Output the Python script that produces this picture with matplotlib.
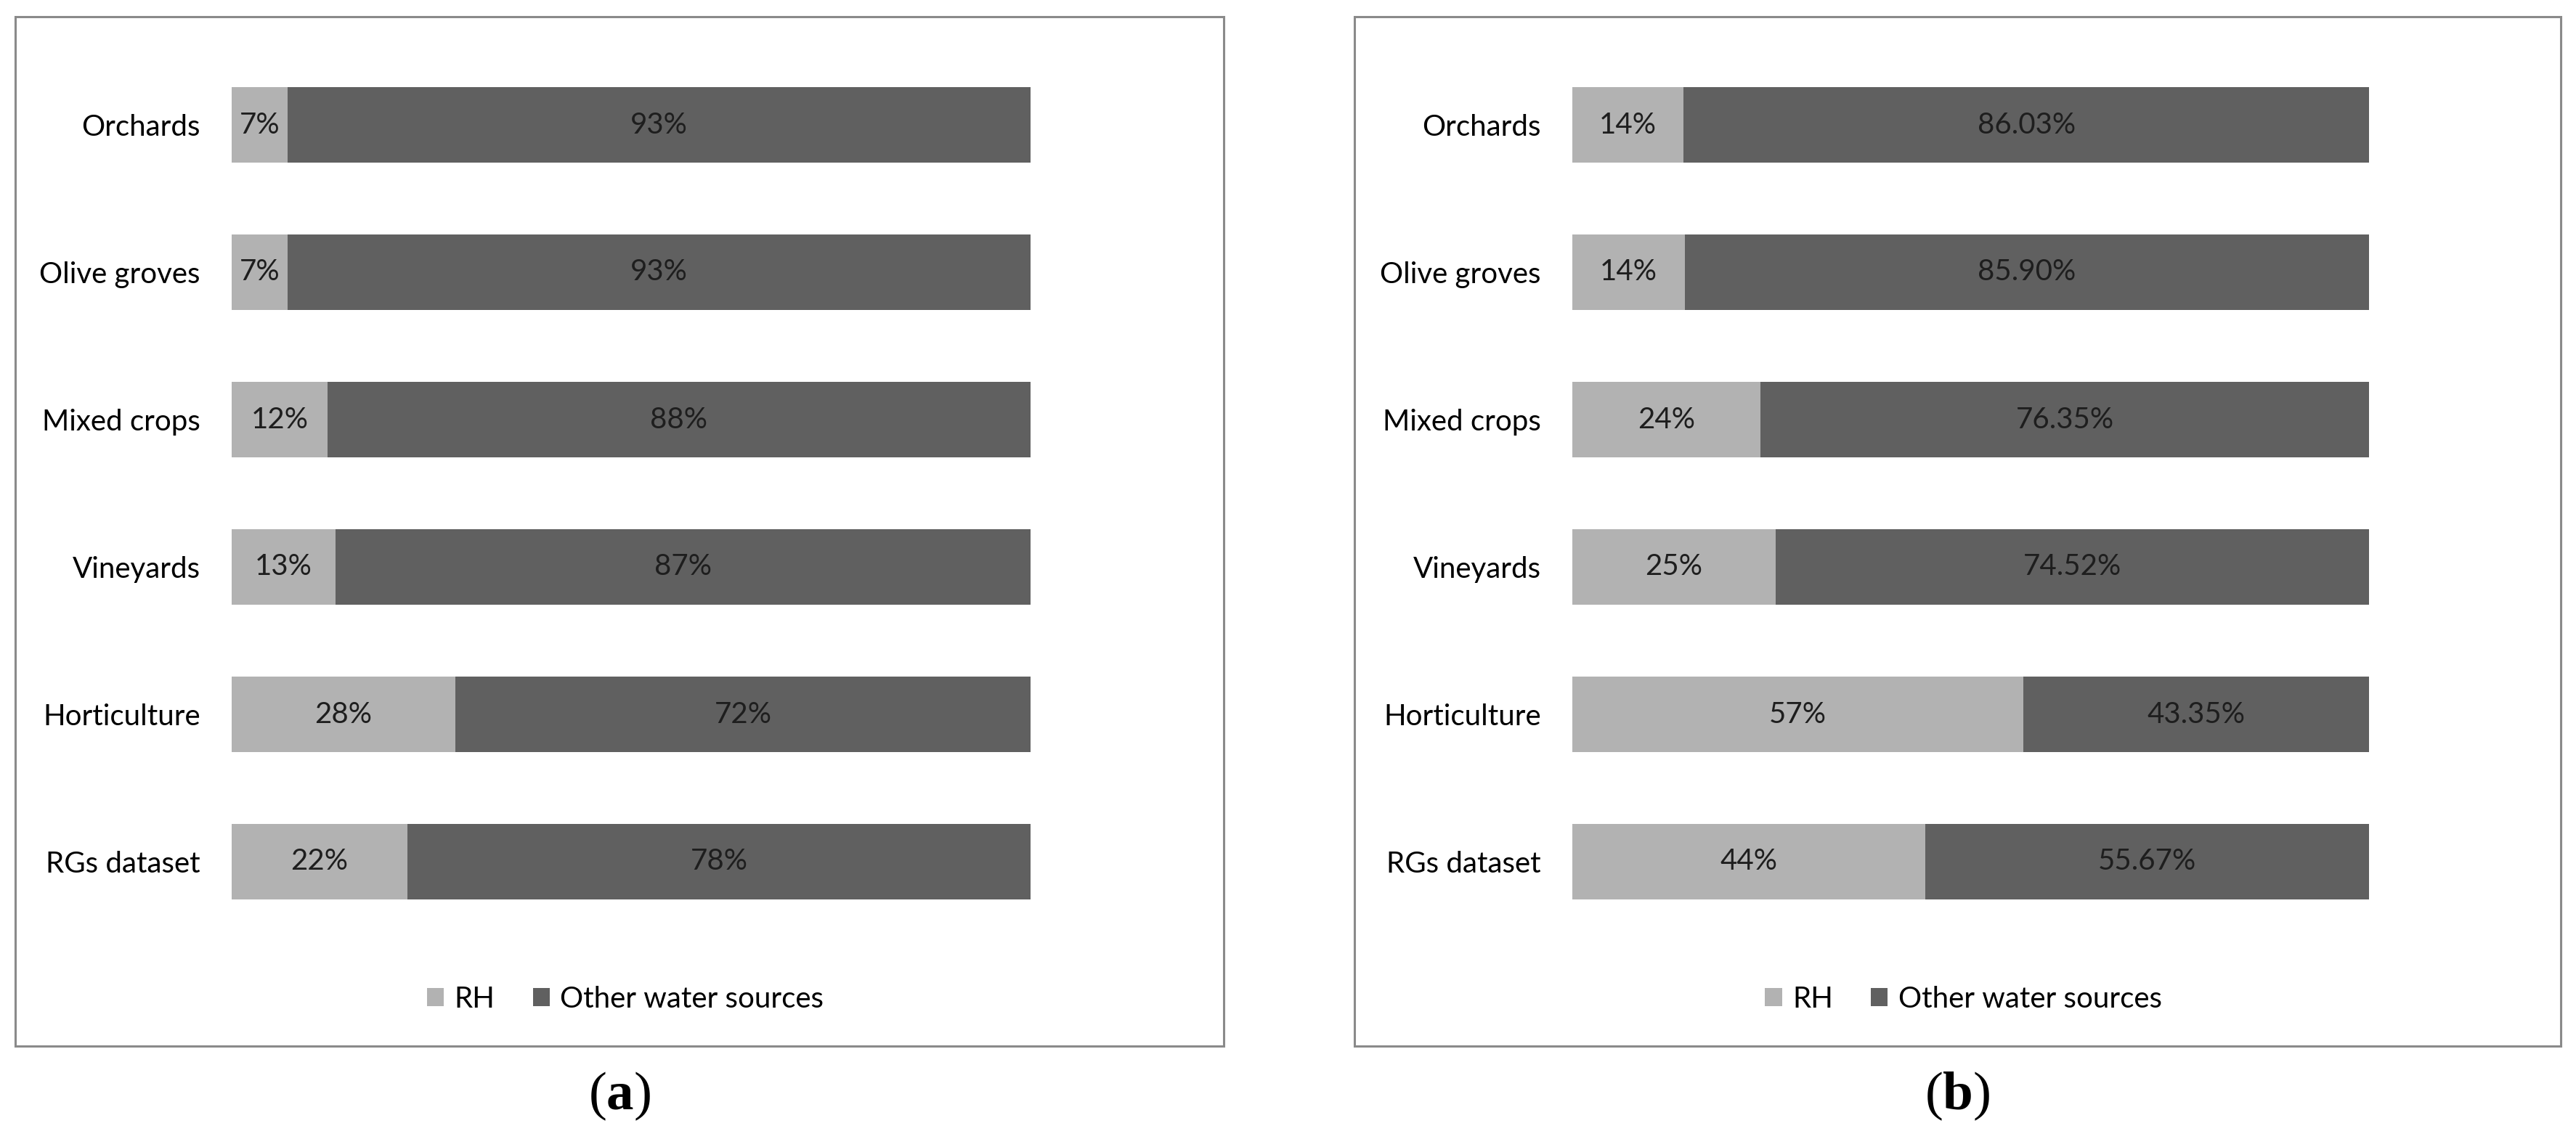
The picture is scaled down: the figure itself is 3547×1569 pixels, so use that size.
import matplotlib.pyplot as plt
from matplotlib.patches import Rectangle, Patch

# land-use categories, top to bottom
categories = ['Orchards', 'Olive groves', 'Mixed crops', 'Vineyards',
              'Horticulture', 'RGs dataset']

# (a) share of RH vs other water sources (%)
rh_a = [7, 7, 12, 13, 28, 22]
other_a = [93, 93, 88, 87, 72, 78]

# (b) share of RH vs other water sources (%)
rh_b = [13.97, 14.10, 23.65, 25.48, 56.65, 44.33]
other_b = [86.03, 85.90, 76.35, 74.52, 43.35, 55.67]

series_names = ['RH', 'Other water sources']
panel_tags = ['a', 'b']

LIGHT = '#b2b2b2'
DARK = '#606060'
W, H = 3548, 1569

plt.rcParams['font.family'] = ['Lato', 'DejaVu Sans']
plt.rcParams['mathtext.fontset'] = 'custom'
plt.rcParams['mathtext.rm'] = 'Liberation Serif'
plt.rcParams['mathtext.bf'] = 'Liberation Serif:bold'

fig = plt.figure(figsize=(W / 100, H / 100), dpi=100)


def px_box(x0, x1, ytop, ybot):
    return [x0 / W, 1 - ybot / H, (x1 - x0) / W, (ybot - ytop) / H]


panels = [
    dict(frame=(21, 1685), bars=(319, 1419), rh=rh_a, other=other_a,
         fmt_rh='{:.0f}%', fmt_other='{:.0f}%'),
    dict(frame=(1865, 3526), bars=(2165, 3262), rh=rh_b, other=other_b,
         fmt_rh='{:.0f}%', fmt_other='{:.2f}%'),
]

for p, tag in zip(panels, panel_tags):
    fx0, fx1 = p['frame']
    # chart frame
    fig.patches.append(Rectangle((fx0 / W, 1 - 1441 / H), (fx1 - fx0) / W,
                                 (1441 - 23) / H, transform=fig.transFigure,
                                 facecolor='none', edgecolor='#8a8a8a',
                                 linewidth=2.2, zorder=-5))

    ax = fig.add_axes(px_box(p['bars'][0], p['bars'][1], 70.5, 1288.5))
    b1 = ax.barh(categories, p['rh'], height=0.51, color=LIGHT)
    b2 = ax.barh(categories, p['other'], left=p['rh'], height=0.51, color=DARK)
    ax.bar_label(b1, labels=[p['fmt_rh'].format(v) for v in p['rh']],
                 label_type='center', fontsize=29, color='#1e1e1e')
    ax.bar_label(b2, labels=[p['fmt_other'].format(v) for v in p['other']],
                 label_type='center', fontsize=29, color='#1e1e1e')
    ax.set_xlim(0, 100)
    ax.set_ylim(5.5, -0.5)
    ax.set_xticks([])
    ax.tick_params(axis='y', length=0, pad=31, labelsize=29)
    for s in ax.spines.values():
        s.set_visible(False)
    ax.patch.set_alpha(0)

    handles = [Patch(facecolor=LIGHT), Patch(facecolor=DARK)]
    cx = ((fx0 + fx1) / 2 + 8) / W
    fig.legend(handles, series_names, loc='center', bbox_to_anchor=(cx, 1 - 1376 / H),
               ncol=2, frameon=False, fontsize=29, handlelength=0.58,
               handleheight=0.6, handletextpad=0.35, columnspacing=1.3)

    fig.text((fx0 + fx1) / 2 / W, 1 - 1510 / H, '(' + r'$\mathbf{' + tag + '}$' + ')',
             ha='center', va='center', fontsize=54, family='Liberation Serif')

fig.savefig('out.png', dpi=100, facecolor='white')
